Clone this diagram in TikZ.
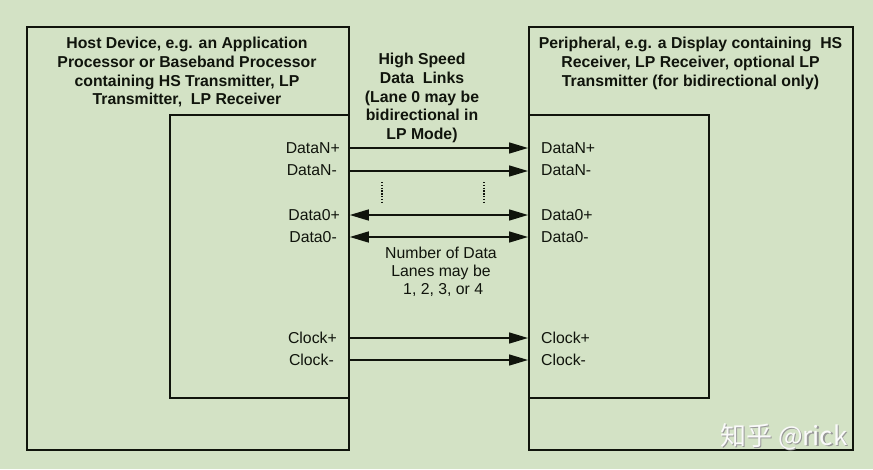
\documentclass[tikz,border=0pt]{standalone}
\usepackage{fontspec}
\setmainfont{Liberation Sans}
\newfontfamily\cjk{Noto Sans CJK SC}
\usetikzlibrary{arrows.meta}
\definecolor{bg}{RGB}{211,226,197}
\definecolor{ink}{RGB}{16,20,12}
\begin{document}
\begin{tikzpicture}[x=1pt,y=-1pt,
  box/.style={draw=ink,line width=1.8pt,inner sep=0pt,anchor=north west},
  tip/.style={Triangle[length=19pt,width=11pt]},
  sig/.style={draw=ink,line width=1.5pt,-{Triangle[length=19pt,width=11pt]}},
  bisig/.style={draw=ink,line width=1.5pt,{Triangle[length=19pt,width=11pt]}-{Triangle[length=19pt,width=11pt]}},
  lab/.style={inner sep=0pt,font=\fontsize{15.8}{18}\selectfont,text=ink},
  title/.style={inner sep=0pt,align=center,anchor=north,font=\bfseries\fontsize{15.8}{18.7}\selectfont,text=ink},
  dotline/.style={draw=ink,line width=1.2pt,dash pattern=on 1.3pt off 1.5pt}]
\fill[bg] (0,0) rectangle (873,469);
\useasboundingbox (0,0) rectangle (873,469);
% boxes
\node[box,minimum width=322pt,minimum height=423pt] (host) at (26,26) {};
\node[box,minimum width=179pt,minimum height=283pt] (hostin) at (169,114) {};
\node[box,minimum width=324pt,minimum height=423pt] (per) at (528,26) {};
\node[box,minimum width=180pt,minimum height=283pt] (perin) at (528,114) {};
% titles
\node[title] (hostt) at (187,37) {Host Device, e.g. an Application\\Processor or Baseband Processor\\containing HS Transmitter, LP\\Transmitter,\ \ LP Receiver};
\node[title] (pert) at (690.5,37) {Peripheral, e.g. a Display containing\ \ HS\\Receiver, LP Receiver, optional LP\\Transmitter (for bidirectional only)};
\node[title] (hsl) at (422,53) {High Speed\\Data\ \ Links\\(Lane 0 may be\\bidirectional in\\LP Mode)};
\node[lab,align=center,anchor=north,font=\fontsize{15.8}{18}\selectfont] (nlanes) at (441,247) {Number of Data\\Lanes may be\\\ 1, 2, 3, or 4};
% left labels
\node[lab,anchor=base east] (lDNp) at (340,153.5) {DataN+};
\node[lab,anchor=base east] (lDNm) at (337,175.5) {DataN-};
\node[lab,anchor=base east] (lD0p) at (340,220.5) {Data0+};
\node[lab,anchor=base east] (lD0m) at (337,242.5) {Data0-};
\node[lab,anchor=base east] (lCp) at (337,343.5) {Clock+};
\node[lab,anchor=base east] (lCm) at (334,365.5) {Clock-};
% right labels
\node[lab,anchor=base west] (rDNp) at (541,153.5) {DataN+};
\node[lab,anchor=base west] (rDNm) at (541,175.5) {DataN-};
\node[lab,anchor=base west] (rD0p) at (541,220.5) {Data0+};
\node[lab,anchor=base west] (rD0m) at (541,242.5) {Data0-};
\node[lab,anchor=base west] (rCp) at (541,343.5) {Clock+};
\node[lab,anchor=base west] (rCm) at (541,365.5) {Clock-};
% links
\draw[sig] (hostin.east |- 0,148) -- (perin.west |- 0,148);
\draw[sig] (hostin.east |- 0,171) -- (perin.west |- 0,171);
\draw[bisig] (hostin.east |- 0,215) -- (perin.west |- 0,215);
\draw[bisig] (hostin.east |- 0,237) -- (perin.west |- 0,237);
\draw[sig] (hostin.east |- 0,338) -- (perin.west |- 0,338);
\draw[sig] (hostin.east |- 0,360) -- (perin.west |- 0,360);
% dotted ellipsis
\draw[dotline] (382,182) -- (382,204);
\draw[dotline] (484,182) -- (484,204);
% watermark
\node[inner sep=0pt,anchor=base west,font=\cjk\fontsize{26}{26}\selectfont,text=black!40] (wms) at (721.5,446.5) {知乎 @rick};
\node[inner sep=0pt,anchor=base west,font=\cjk\fontsize{26}{26}\selectfont,text=white!96!gray] (wm) at (720,445) {知乎 @rick};
\end{tikzpicture}
\end{document}
